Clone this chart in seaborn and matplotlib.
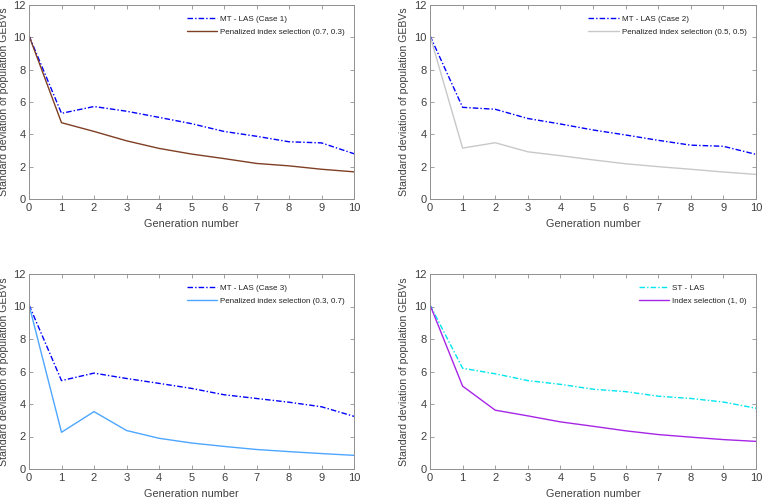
import matplotlib
matplotlib.use("Agg")
import matplotlib.pyplot as plt
import seaborn as sns
import pandas as pd
import numpy as np

generations = list(range(11))

mt_las_case1 = [10.1, 5.3, 5.72, 5.43, 5.05, 4.66, 4.18, 3.88, 3.54, 3.47, 2.8]
pen_07_03 = [10.1, 4.72, 4.18, 3.6, 3.13, 2.78, 2.5, 2.2, 2.05, 1.84, 1.68]

mt_las_case2 = [10.1, 5.67, 5.55, 4.98, 4.64, 4.27, 3.96, 3.63, 3.33, 3.26, 2.76]
pen_05_05 = [10.1, 3.15, 3.48, 2.92, 2.68, 2.42, 2.18, 2.0, 1.84, 1.67, 1.52]

mt_las_case3 = [10.1, 5.44, 5.9, 5.57, 5.27, 4.96, 4.57, 4.34, 4.11, 3.83, 3.24]
pen_03_07 = [10.1, 2.26, 3.53, 2.37, 1.89, 1.6, 1.39, 1.2, 1.07, 0.95, 0.84]

st_las = [10.1, 6.2, 5.86, 5.44, 5.21, 4.91, 4.76, 4.48, 4.34, 4.12, 3.74]
index_1_0 = [10.1, 5.1, 3.62, 3.27, 2.9, 2.63, 2.35, 2.12, 1.96, 1.81, 1.7]

panels = [
    ("MT - LAS (Case 1)", mt_las_case1, "#0000ff", "Penalized index selection (0.7, 0.3)", pen_07_03, "#7f3f24"),
    ("MT - LAS (Case 2)", mt_las_case2, "#0000ff", "Penalized index selection (0.5, 0.5)", pen_05_05, "#c8c8c8"),
    ("MT - LAS (Case 3)", mt_las_case3, "#0000ff", "Penalized index selection (0.3, 0.7)", pen_03_07, "#4da6ff"),
    ("ST - LAS", st_las, "#00e5ee", "Index selection (1, 0)", index_1_0, "#a626e6"),
]

sns.set_style("ticks")
plt.rcParams['font.family'] = ['Liberation Sans', 'DejaVu Sans']
text_color = "#404040"
spine_color = "#909090"

fig = plt.figure(figsize=(7.62, 4.99), dpi=100)
positions = [
    [29 / 762, 1 - 199 / 499, 325 / 762, 194 / 499],
    [430 / 762, 1 - 199 / 499, 326 / 762, 194 / 499],
    [29 / 762, 1 - 469 / 499, 325 / 762, 195 / 499],
    [430 / 762, 1 - 469 / 499, 326 / 762, 195 / 499],
]

for pos, (n1, v1, c1, n2, v2, c2) in zip(positions, panels):
    ax = fig.add_axes(pos)
    df = pd.DataFrame({
        "Generation": generations * 2,
        "SD": v1 + v2,
        "Method": [n1] * len(v1) + [n2] * len(v2),
    })
    sns.lineplot(data=df, x="Generation", y="SD", hue="Method",
                 palette={n1: c1, n2: c2}, style="Method",
                 dashes={n1: (4, 1.5, 1, 1.5), n2: ""}, linewidth=1.0, ax=ax)
    ax.set_xlim(0, 10)
    ax.set_ylim(0, 12)
    ax.set_xticks(range(0, 11))
    ax.set_yticks(range(0, 13, 2))
    ax.set_xlabel("Generation number", fontsize=7.8, color=text_color, labelpad=4)
    ax.set_ylabel("Standard deviation of population GEBVs", fontsize=7.6, color=text_color)
    ax.yaxis.set_label_coords(-0.063, 0.5)
    ax.tick_params(direction="in", length=3, width=0.6, colors=spine_color,
                   labelcolor=text_color, labelsize=8, top=True, right=True, pad=3)
    ax.tick_params(axis="y", pad=2.5)
    for s in ax.spines.values():
        s.set_visible(True)
        s.set_color(spine_color)
        s.set_linewidth(0.7)
    leg = ax.legend(loc="upper right", bbox_to_anchor=(0.99, 0.975), frameon=False,
                    fontsize=5.8, handlelength=3.8, handletextpad=0.4,
                    labelspacing=0.6, borderaxespad=0.3)
    for t in leg.get_texts():
        t.set_color("#202020")

fig.savefig("out.png", dpi=100)
